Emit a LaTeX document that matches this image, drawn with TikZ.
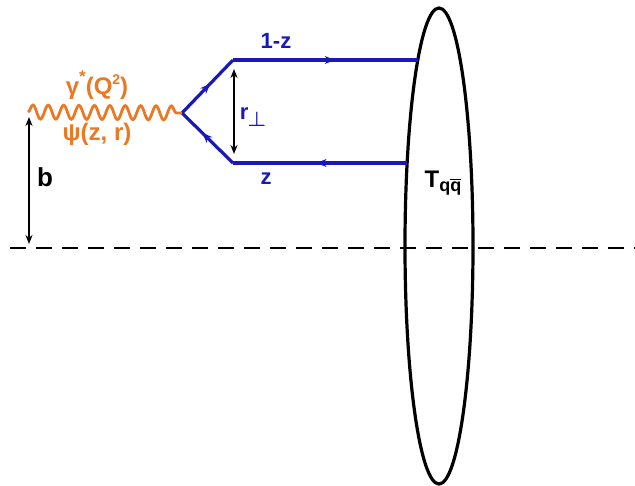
\documentclass[tikz,border=0pt]{standalone}
\usepackage{amsmath}
\usepackage{fontspec}
\setmainfont{Liberation Sans}
\usetikzlibrary{decorations.pathmorphing,decorations.markings,arrows.meta,shapes.geometric}
\definecolor{qblue}{RGB}{25,25,185}
\definecolor{phorange}{RGB}{235,120,35}
\newcommand\myqbar{\ensuremath{\overline{\hbox{q}}}}
\tikzset{
  lbl/.style={font=\fontsize{22}{22}\selectfont\bfseries, inner sep=0pt},
  quark/.style={draw=qblue, line width=3.2pt},
  midarrow/.style={postaction={decorate}, decoration={markings,
    mark=at position #1 with {\arrow[qblue]{Stealth[length=10pt,width=8pt]}}}},
  dimarrow/.style={draw=black, line width=1.5pt, {Stealth[length=9pt,width=7pt]}-{Stealth[length=9pt,width=7pt]}},
}
\begin{document}
\begin{tikzpicture}[x=1pt,y=-1pt]
\useasboundingbox (0,0) rectangle (635,486);
% dashed axis
\coordinate (dl) at (10,248);
\coordinate (dr) at (635,248);
\draw[line width=2.4pt, dash pattern=on 16pt off 10pt] (dl) -- (dr);
% ellipse target
\node[ellipse, draw=black, line width=3.2pt, minimum width=68pt, minimum height=476pt, inner sep=0pt] (T) at (439,246) {};
\node[lbl] (Tl) at (443,183) {\fontsize{24}{24}\selectfont T\raisebox{-0.35ex}{\fontsize{18}{18}\selectfont q\myqbar}};
% vertex and quark lines
\coordinate (v) at (182,113);
\coordinate (a) at (233,60);
\coordinate (c) at (233,163);
\coordinate (qa) at (418,60);
\coordinate (qc) at (407,163);
\draw[quark, midarrow=0.55] (v) -- (a);
\draw[quark, midarrow=0.55] (a) -- (qa);
\draw[quark, midarrow=0.52] (qc) -- (c);
\draw[quark, midarrow=0.6] (c) -- (v);
% photon
\coordinate (ps) at (28,112);
\draw[phorange, line width=2.8pt, decorate, decoration={snake, segment length=15.4pt, amplitude=7pt}] (ps) -- (v);
% dimension arrows
\coordinate (r1) at (234,69);
\coordinate (r2) at (234,154);
\draw[dimarrow] (r1) -- (r2);
\coordinate (b1) at (29,117);
\coordinate (b2) at (29,244);
\draw[dimarrow] (b1) -- (b2);
% labels
\node[lbl, text=qblue] (l1) at (276,41) {1-z};
\node[lbl, text=qblue] (l2) at (266,179) {z};
\node[lbl, text=qblue] (lr) at (253,117) {r\kern-1pt\raisebox{-0.55ex}{$\boldsymbol{\perp}$}};
\node[lbl, text=phorange] (lg) at (97,85) {\fontsize{24}{24}\selectfont γ\raisebox{0.9ex}{\fontsize{17}{17}\selectfont *}(Q\raisebox{0.75ex}{\fontsize{14}{14}\selectfont 2})};
\node[lbl, text=phorange] (lp) at (97,134) {\fontsize{24}{24}\selectfont ψ(z, r)};
\node[lbl] (lb) at (45,177) {\fontsize{26}{26}\selectfont b};
\end{tikzpicture}
\end{document}
